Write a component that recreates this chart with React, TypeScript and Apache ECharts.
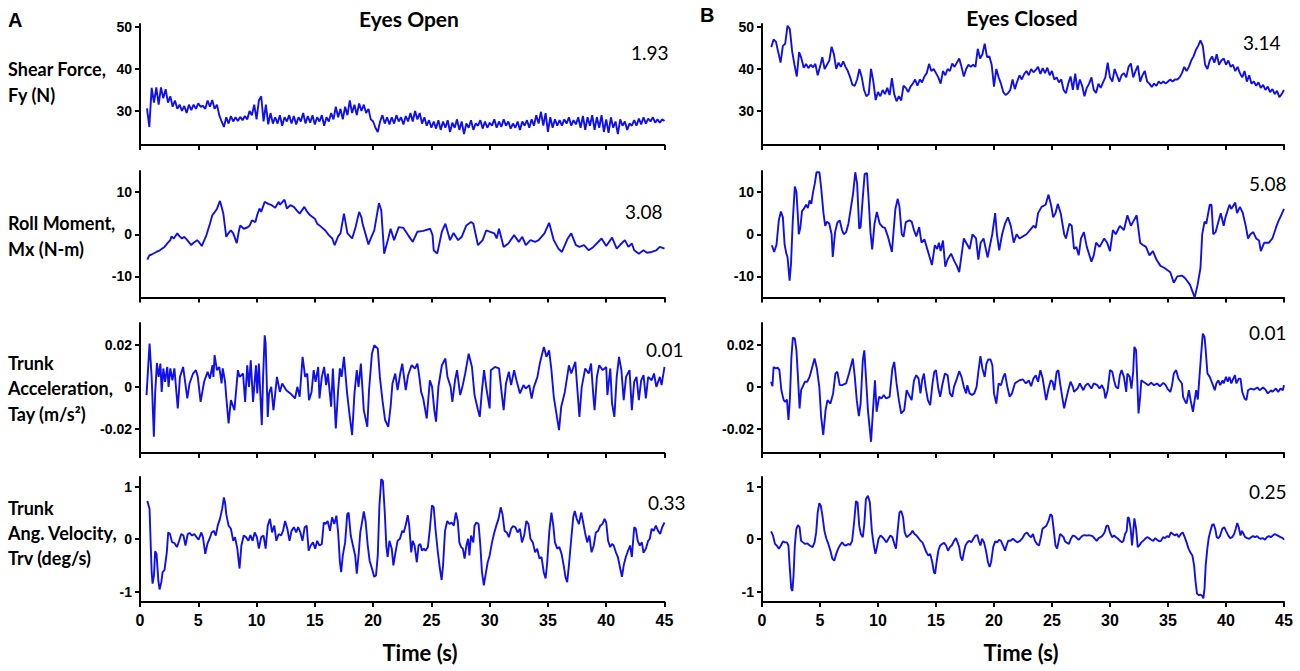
import React, { useEffect, useRef } from "react";
import * as echarts from "echarts";

// ---------- data ----------
// Shear force Fy (N), eyes open: sampled every 0.2 s from 0.6 s
const shearOpenStart = 0.6;
const shearOpenStep = 0.2;
const shearOpen: number[] = [
  30.6, 26.2, 35.5, 32.0, 35.6,
  31.5, 35.6, 33.0, 35.2, 32.0,
  33.5, 31.0, 32.5, 30.5, 31.5,
  30.0, 31.2, 29.5, 31.5, 30.2,
  31.5, 30.5, 31.8, 31.0, 31.2,
  30.5, 32.5, 31.0, 32.6, 30.5,
  31.5, 29.0, 27.5, 26.2, 28.5,
  27.0, 28.8, 27.5, 28.5, 27.6,
  28.6, 27.8, 28.8, 28.0, 30.0,
  29.0, 31.5, 28.0, 32.5, 33.5,
  27.5, 31.5, 26.8, 29.5, 27.0,
  28.5, 27.0, 29.0, 26.5, 28.5,
  27.5, 29.0, 27.0, 28.8, 26.8,
  28.5, 27.5, 29.5, 27.0, 28.8,
  27.2, 29.0, 26.8, 28.5, 27.5,
  29.0, 26.5, 28.5, 27.5, 29.5,
  28.0, 31.0, 28.5, 30.5, 28.0,
  31.0, 29.0, 32.5, 29.5, 31.5,
  29.0, 31.8, 30.0, 31.5, 29.5,
  30.5, 28.0, 27.5, 26.0, 25.0,
  27.5, 29.0, 27.0, 28.5, 26.8,
  28.5, 27.0, 29.0, 27.5, 28.5,
  26.8, 28.8, 27.5, 29.5, 27.5,
  30.0, 28.0, 29.5, 27.0, 28.5,
  26.5, 27.8, 26.0, 27.5, 25.8,
  27.8, 25.5, 27.5, 26.0, 27.8,
  25.0, 27.2, 26.0, 28.0, 25.5,
  27.5, 24.5, 27.0, 26.0, 27.8,
  25.5, 27.0, 26.5, 27.8, 25.8,
  27.5, 26.0, 27.2, 26.5, 28.0,
  26.0, 27.5, 26.2, 28.0, 26.5,
  27.5, 25.8, 27.0, 26.0, 27.5,
  25.5, 27.5, 26.5, 27.8, 26.0,
  28.0, 26.5, 29.0, 27.0, 29.8,
  26.5, 29.5, 25.0, 28.5, 26.0,
  28.0, 26.5, 27.8, 26.5, 28.0,
  27.0, 28.5, 26.5, 27.8, 26.8,
  28.5, 26.0, 28.8, 25.5, 28.5,
  26.5, 29.0, 25.5, 28.5, 26.0,
  29.0, 25.0, 28.0, 24.8, 28.5,
  26.0, 27.5, 24.5, 28.0, 26.5,
  27.5, 25.5, 27.0, 26.5, 27.8,
  26.5, 28.2, 26.8, 28.5, 27.0,
  28.2, 27.5, 28.5, 27.2, 28.0,
  27.2, 28.0, 27.6,
];

// Shear force Fy (N), eyes closed: sampled every 0.2 s from 0.8 s
const shearClosedStart = 0.8;
const shearClosedStep = 0.2;
const shearClosed: number[] = [
  45.2, 47.0, 46.5, 44.0, 41.5,
  45.5, 46.0, 50.3, 49.5, 44.2,
  41.0, 38.2, 44.0, 42.5, 40.3,
  41.2, 40.2, 41.0, 40.4, 41.2,
  38.5, 40.5, 42.8, 40.0, 41.0,
  42.0, 45.3, 43.5, 40.0, 41.5,
  40.5, 41.8, 40.5, 39.5, 38.0,
  36.2, 36.0, 37.5, 40.0, 38.0,
  35.0, 33.5, 34.0, 40.0, 37.0,
  32.6, 34.5, 33.5, 35.0, 34.0,
  35.5, 33.8, 37.8, 34.0, 32.3,
  33.5, 32.5, 36.0, 35.5, 34.5,
  35.8, 36.5, 37.5, 36.0, 37.5,
  36.8, 38.2, 39.0, 41.2, 39.5,
  40.0, 39.0, 38.0, 36.5, 39.5,
  38.5, 40.0, 39.5, 41.3, 40.5,
  41.5, 42.5, 40.5, 38.2, 40.0,
  41.0, 40.5, 41.0, 40.5, 44.8,
  42.5, 43.5, 46.0, 42.8, 43.0,
  41.0, 35.8, 40.0, 38.0, 36.5,
  34.5, 33.8, 34.2, 35.0, 37.5,
  35.2, 37.0, 38.5, 37.5, 38.8,
  39.5, 38.5, 40.0, 39.2, 39.8,
  40.5, 38.8, 40.2, 39.0, 40.3,
  38.5, 39.5, 37.5, 38.0, 36.8,
  37.5, 35.0, 34.2, 36.5, 38.2,
  35.0, 38.9, 35.0, 37.5, 36.0,
  33.5, 35.5, 36.5, 38.0, 35.0,
  34.3, 36.5, 35.5, 36.8, 38.0,
  41.5, 38.0, 37.0, 40.0, 38.5,
  37.0, 38.5, 39.0, 38.0, 40.5,
  41.3, 38.0, 39.5, 40.8, 37.0,
  38.5, 39.5, 37.0, 36.5, 35.7,
  36.5, 36.0, 37.0, 36.5, 37.0,
  36.5, 37.0, 37.5, 37.0, 37.5,
  37.5, 38.0, 39.0, 40.5, 39.5,
  40.5, 42.0, 43.0, 44.5, 45.5,
  46.8, 45.5, 41.0, 40.0, 42.0,
  43.0, 41.5, 43.5, 41.0, 42.0,
  42.5, 41.0, 42.0, 40.5, 41.0,
  39.5, 40.5, 39.0, 38.0, 39.5,
  37.0, 38.5, 36.5, 37.0, 36.0,
  36.8, 35.5, 36.2, 35.0, 35.8,
  34.5, 35.2, 34.0, 34.8, 33.3,
  34.0, 35.0,
];

// Roll moment Mx (N-m), eyes open: [time s, value]
const rollOpen: [number, number][] = [
  [0.63,-6.0],[0.8,-5.0],[1.0,-4.8],[1.2,-4.5],[1.4,-4.2],[1.7,-3.8],[2.1,-3.0],[2.4,-2.0],[2.6,-1.4],[2.7,-0.5],
  [2.9,-1.0],[3.0,-0.6],[3.2,0.2],[3.4,-0.5],[3.6,-1.0],[3.8,-0.6],[4.0,-1.2],[4.4,-2.6],[4.6,-2.0],[4.9,-1.4],
  [5.1,-2.0],[5.3,-2.8],[5.5,-1.5],[5.7,-0.2],[6.0,2.5],[6.2,4.5],[6.4,5.2],[6.6,6.0],[6.86,7.9],[7.0,6.5],
  [7.15,4.9],[7.4,-0.6],[7.6,0.3],[7.8,0.9],[8.0,0.2],[8.3,-2.1],[8.5,1.0],[8.6,2.1],[8.9,1.3],[9.2,1.6],
  [9.4,2.0],[9.6,3.3],[9.9,2.9],[10.05,4.5],[10.25,6.1],[10.4,5.3],[10.7,7.7],[11.0,7.2],[11.3,6.9],[11.6,6.3],
  [11.9,7.7],[12.0,7.0],[12.4,8.2],[12.6,6.1],[12.9,6.9],[13.2,6.5],[13.5,5.5],[13.7,4.9],[14.1,6.5],[14.3,5.5],
  [14.6,4.5],[15.0,3.7],[15.2,2.5],[15.4,2.1],[15.9,0.9],[16.2,-0.2],[16.5,-1.0],[16.7,-2.6],[17.0,-0.5],[17.2,0.2],
  [17.5,4.9],[17.8,0.2],[18.2,-1.0],[18.5,1.7],[18.8,5.3],[19.0,4.0],[19.1,2.5],[19.6,-2.4],[19.8,-1.0],[20.1,0.9],
  [20.5,7.4],[20.7,5.7],[20.95,-4.6],[21.3,-1.0],[21.5,1.3],[21.8,-1.4],[22.2,1.7],[22.6,1.5],[23.0,-0.2],[23.4,-1.8],
  [23.8,0.6],[24.3,0.8],[24.9,1.3],[25.1,-0.2],[25.2,-3.8],[25.5,-4.6],[25.9,0.6],[26.2,2.5],[26.6,-1.4],[26.9,0.3],
  [27.3,-1.4],[27.6,-0.6],[28.0,2.1],[28.4,2.9],[28.6,2.5],[29.0,-2.6],[29.4,-1.4],[29.7,0.9],[30.1,0.5],[30.4,0.2],
  [30.6,-1.0],[30.8,1.3],[31.2,-3.0],[31.6,-2.2],[32.1,-0.2],[32.5,-1.8],[32.8,-0.6],[33.1,-2.6],[33.5,-1.4],[33.9,-1.8],
  [34.2,-1.4],[34.7,0.2],[35.1,2.7],[35.5,-1.4],[35.9,-3.4],[36.2,-4.2],[36.7,-1.0],[37.0,0.2],[37.4,-2.6],[37.7,-3.0],
  [38.1,-2.6],[38.5,-3.8],[38.9,-3.0],[39.6,-1.0],[40.0,-2.8],[40.5,-0.8],[40.9,-3.4],[41.2,-2.5],[41.6,-1.4],[41.9,-3.0],
  [42.2,-2.2],[42.4,-3.8],[42.8,-4.6],[43.2,-3.8],[43.5,-4.4],[43.9,-4.2],[44.3,-3.8],[44.6,-3.0],[45.0,-3.4],
];

// Roll moment Mx (N-m), eyes closed
const rollClosed: [number, number][] = [
  [0.85,-2.6],[1.05,-4.2],[1.25,-2.5],[1.45,3.3],[1.63,5.4],[1.8,4.0],[1.95,-2.5],[2.1,-4.6],[2.2,-5.4],[2.38,-11.0],
  [2.5,-7.0],[2.65,3.0],[2.83,11.3],[2.97,10.0],[3.1,4.0],[3.17,0.0],[3.3,1.5],[3.45,5.5],[3.6,6.0],[3.8,7.0],
  [3.95,6.2],[4.1,8.0],[4.25,7.2],[4.4,10.0],[4.55,12.0],[4.7,14.7],[4.95,14.7],[5.1,11.0],[5.3,5.0],[5.45,2.0],
  [5.6,3.0],[5.8,2.5],[6.0,0.0],[6.1,-5.4],[6.3,0.5],[6.5,2.8],[6.7,3.3],[6.9,1.0],[7.05,0.0],[7.25,0.5],
  [7.45,2.5],[7.65,6.0],[7.85,9.6],[8.04,14.7],[8.2,12.0],[8.38,1.3],[8.5,1.7],[8.68,8.4],[8.85,14.3],[9.05,14.5],
  [9.2,8.0],[9.35,0.5],[9.5,-3.6],[9.7,2.5],[9.9,5.3],[10.15,2.5],[10.4,1.7],[10.6,1.5],[10.85,-0.5],[11.2,-4.2],
  [11.35,1.0],[11.5,6.0],[11.7,8.4],[11.85,6.5],[12.05,0.0],[12.2,-0.6],[12.4,2.9],[12.7,3.3],[12.9,3.0],[13.1,1.0],
  [13.3,-0.5],[13.55,1.7],[13.75,-2.0],[14.0,-1.2],[14.3,-4.0],[14.65,-7.3],[14.9,-2.6],[15.1,-3.5],[15.25,-2.0],[15.4,-4.0],
  [15.6,-1.5],[15.8,-7.7],[16.0,-6.0],[16.3,-4.6],[16.6,-6.5],[16.8,-7.5],[17.0,-9.0],[17.2,-5.0],[17.4,-1.0],[17.6,-2.0],
  [17.9,-3.5],[18.15,0.0],[18.45,-1.0],[18.65,-6.0],[18.85,-2.0],[19.1,-1.0],[19.45,-5.5],[19.7,-2.0],[19.85,0.0],[20.1,5.0],
  [20.25,0.0],[20.45,-3.8],[20.7,0.0],[20.95,2.5],[21.2,4.0],[21.45,2.0],[21.7,-2.0],[21.95,0.0],[22.2,-1.0],[22.5,-0.5],
  [22.8,0.0],[23.1,1.0],[23.4,2.0],[23.6,1.5],[23.8,5.0],[24.1,6.5],[24.45,7.0],[24.7,9.4],[24.95,6.5],[25.1,4.0],
  [25.3,5.0],[25.5,7.2],[25.75,5.0],[26.05,0.0],[26.2,-1.0],[26.5,2.5],[26.7,2.0],[26.9,-3.5],[27.1,-3.0],[27.3,-5.0],
  [27.5,-1.0],[27.75,0.5],[28.0,-3.0],[28.4,-6.5],[28.6,-5.0],[28.8,-2.0],[29.1,-3.0],[29.5,-1.0],[29.75,-2.0],[30.0,-4.0],
  [30.25,1.0],[30.5,0.0],[30.85,2.0],[31.2,1.0],[31.5,4.5],[31.8,2.0],[32.0,3.0],[32.3,4.5],[32.6,-2.0],[32.8,-2.5],
  [33.1,-3.0],[33.4,-5.0],[33.7,-4.0],[34.0,-6.0],[34.35,-7.5],[34.7,-8.0],[35.2,-9.0],[35.5,-11.5],[35.8,-10.0],[36.2,-9.8],
  [36.5,-10.5],[36.9,-12.0],[37.1,-13.5],[37.3,-15.0],[37.55,-12.0],[37.8,-8.0],[37.95,0.0],[38.15,3.0],[38.3,2.5],[38.6,7.0],
  [38.75,7.0],[38.9,0.0],[39.1,0.5],[39.35,3.0],[39.55,5.0],[39.8,2.0],[39.95,4.0],[40.3,7.0],[40.45,6.0],[40.8,7.5],
  [40.95,5.0],[41.2,6.5],[41.45,5.0],[41.7,2.0],[41.9,-1.0],[42.1,0.0],[42.35,0.5],[42.6,-1.0],[42.85,-1.5],[43.0,-4.0],
  [43.3,-2.0],[43.7,-2.0],[44.0,-1.0],[44.3,1.5],[44.5,3.0],[44.75,4.5],[45.0,6.0],
];

// Trunk acceleration Tay (m/s^2), eyes open
const accOpen: [number, number][] = [
  [0.56,-0.0039],[0.82,0.0205],[1.0,0.0047],[1.19,-0.0236],[1.3,-0.0031],[1.45,0.0113],[1.6,0.0047],[1.75,0.011],[1.86,-0.0024],[2.0,0.0087],
  [2.15,0.0024],[2.34,0.0094],[2.45,0.0],[2.6,0.0087],[2.78,0.0031],[2.95,0.0087],[3.24,-0.0102],[3.43,0.0047],[3.7,0.0094],[4.06,-0.0055],
  [4.25,0.0016],[4.55,0.0063],[4.8,0.0079],[4.96,0.0047],[5.2,-0.0071],[5.5,0.0024],[5.8,0.0071],[6.0,0.0039],[6.22,0.0102],[6.3,0.0047],
  [6.4,0.015],[6.6,0.0079],[6.8,0.0094],[7.0,0.0016],[7.1,0.0087],[7.3,0.0024],[7.4,-0.0047],[7.6,-0.0173],[7.8,-0.0063],[8.0,-0.0094],
  [8.1,-0.011],[8.4,0.0079],[8.55,0.0047],[8.84,0.0063],[9.02,-0.0071],[9.2,0.0102],[9.35,0.0],[9.5,0.0126],[9.7,-0.0071],[9.95,0.0102],
  [10.06,-0.0031],[10.2,0.011],[10.45,-0.0181],[10.56,0.0047],[10.7,0.0244],[10.78,0.0205],[10.96,-0.0142],[11.07,-0.0031],[11.26,0.0],[11.45,-0.011],
  [11.75,0.0047],[12.0,-0.0024],[12.2,0.0016],[12.55,-0.0016],[12.9,-0.0031],[13.3,-0.0055],[13.5,0.0],[13.7,-0.0047],[13.95,0.0142],[14.17,0.0047],
  [14.35,0.0063],[14.5,-0.0063],[14.72,-0.0024],[14.9,0.0079],[15.06,0.0024],[15.29,0.0094],[15.4,-0.0055],[15.6,0.0047],[15.8,0.0094],[15.97,0.0008],
  [16.12,0.0063],[16.4,-0.0094],[16.55,0.0087],[16.8,-0.0197],[17.0,-0.0016],[17.15,0.0087],[17.3,0.0047],[17.5,0.0142],[17.77,-0.0031],[18.0,-0.0142],
  [18.2,-0.0228],[18.4,-0.0031],[18.6,0.0079],[18.75,0.0],[18.95,0.011],[19.2,-0.011],[19.5,-0.0189],[19.65,-0.0016],[19.9,0.0157],[20.1,0.0197],
  [20.4,0.0181],[20.58,0.0047],[20.8,-0.0063],[21.03,-0.0157],[21.3,-0.0189],[21.5,-0.0094],[21.66,0.0016],[21.9,0.0063],[22.1,-0.0016],[22.33,0.0063],
  [22.5,0.011],[22.8,-0.0016],[23.0,0.0055],[23.3,0.0102],[23.6,0.0087],[23.8,0.011],[23.97,0.0047],[24.12,-0.0024],[24.3,-0.0055],[24.6,-0.015],
  [24.87,0.0031],[25.06,0.0],[25.25,-0.011],[25.4,-0.0165],[25.6,0.0],[25.9,0.0102],[26.2,0.0134],[26.38,0.0047],[26.65,0.0],[26.8,-0.0071],
  [27.03,0.0031],[27.2,0.0079],[27.47,-0.0039],[27.66,0.0],[27.9,0.0063],[28.2,0.0157],[28.48,0.0094],[28.7,-0.0039],[29.0,-0.011],[29.15,-0.0142],
  [29.34,-0.0016],[29.52,0.0079],[29.7,0.0],[30.0,-0.0102],[30.1,0.0079],[30.45,0.0094],[30.8,0.0087],[31.0,-0.0016],[31.2,-0.011],[31.4,0.0016],
  [31.65,0.0071],[31.84,0.0008],[32.1,0.0079],[32.3,0.0031],[32.6,-0.0031],[32.9,0.0008],[33.1,-0.0008],[33.4,0.0008],[33.6,-0.0055],[33.8,0.0],
  [34.1,0.0047],[34.3,0.011],[34.65,0.0189],[34.87,0.0142],[35.1,0.0173],[35.3,0.0079],[35.5,-0.0047],[35.95,-0.0205],[36.14,-0.0094],[36.45,-0.0024],
  [36.8,0.0102],[37.0,0.0063],[37.35,0.0118],[37.55,-0.0031],[37.7,-0.0142],[37.9,0.0],[38.2,0.0087],[38.5,0.0063],[38.7,0.011],[38.9,-0.0047],
  [39.0,-0.011],[39.2,0.0047],[39.4,0.0102],[39.7,0.0079],[40.0,0.0094],[40.1,-0.0039],[40.35,0.0087],[40.5,-0.0079],[40.7,-0.0142],[40.9,0.0047],
  [41.1,0.0142],[41.3,0.0079],[41.5,-0.0063],[41.7,0.0047],[42.0,0.0079],[42.2,-0.011],[42.4,0.0024],[42.6,0.0047],[42.8,-0.0063],[43.0,0.0031],
  [43.2,0.0055],[43.4,-0.0055],[43.6,0.0047],[43.9,0.0031],[44.1,0.0063],[44.3,0.0],[44.6,0.0047],[44.75,0.0008],[45.0,0.0094],
];

// Trunk acceleration Tay (m/s^2), eyes closed
const accClosed: [number, number][] = [
  [0.78,0.0024],[0.9,0.0003],[1.0,0.0094],[1.2,0.0087],[1.35,0.0091],[1.5,0.0079],[1.67,-0.0016],[1.87,-0.0063],[2.0,-0.0071],[2.15,-0.006],
  [2.28,-0.0157],[2.4,-0.0063],[2.53,0.0134],[2.66,0.0233],[2.83,0.0228],[2.97,0.0173],[3.1,0.0047],[3.24,-0.0102],[3.37,-0.0016],[3.5,0.0],
  [3.7,0.0024],[3.9,0.0024],[4.1,0.0047],[4.3,0.0087],[4.53,0.0134],[4.73,0.0087],[4.94,0.0],[5.1,-0.0142],[5.28,-0.0228],[5.48,-0.011],
  [5.65,-0.0063],[5.9,-0.0079],[6.13,-0.0031],[6.33,0.0063],[6.5,0.0071],[6.7,0.0008],[6.9,0.0008],[7.25,0.0016],[7.5,0.0063],[7.83,0.0134],
  [8.0,0.0047],[8.17,-0.0063],[8.35,-0.0139],[8.5,-0.0079],[8.69,0.0126],[8.82,0.0173],[8.96,0.0047],[9.13,-0.011],[9.4,-0.026],[9.57,-0.011],
  [9.74,0.0031],[9.88,-0.0118],[10.1,-0.0047],[10.3,-0.0055],[10.5,-0.0039],[10.7,-0.0055],[11.0,-0.0047],[11.24,0.0087],[11.4,0.0118],[11.6,0.0016],
  [11.8,-0.0063],[12.0,-0.0126],[12.26,-0.011],[12.47,-0.0016],[12.6,-0.0031],[12.9,-0.0063],[13.1,0.0031],[13.3,0.0055],[13.5,0.0039],[13.66,-0.0031],
  [13.8,0.0031],[13.96,0.0063],[14.1,0.0],[14.3,-0.0063],[14.5,-0.0087],[14.7,0.0016],[14.85,0.0071],[15.0,0.0079],[15.2,-0.0008],[15.36,-0.0047],
  [15.57,0.0016],[15.77,0.0063],[16.0,0.0055],[16.2,-0.0031],[16.4,-0.0047],[16.55,0.0],[16.8,0.0039],[17.0,0.0074],[17.2,0.0047],[17.4,0.0],
  [17.6,-0.0031],[17.7,0.0008],[17.9,-0.0031],[18.1,-0.0039],[18.3,-0.0031],[18.5,0.0],[18.67,0.0079],[18.83,0.0145],[19.0,0.0087],[19.2,0.0047],
  [19.35,0.011],[19.5,0.0129],[19.7,0.0129],[19.86,0.0102],[20.0,-0.0031],[20.2,-0.0079],[20.4,0.0016],[20.6,0.0008],[20.8,0.0047],[20.95,0.0063],
  [21.15,0.0],[21.35,-0.0047],[21.55,-0.0031],[21.8,0.0016],[22.0,0.0024],[22.2,0.0031],[22.5,0.0035],[22.75,0.0016],[23.0,0.0031],[23.2,0.0003],
  [23.4,0.0039],[23.6,0.0055],[23.8,0.0024],[24.0,0.0079],[24.2,0.0039],[24.4,-0.0031],[24.5,-0.0063],[24.7,-0.0008],[24.9,0.0031],[25.05,0.0024],
  [25.2,-0.0016],[25.4,0.0071],[25.55,0.0079],[25.7,0.0016],[25.9,-0.0055],[26.05,-0.0102],[26.2,-0.0063],[26.4,-0.0016],[26.6,0.0024],[26.8,0.0],
  [26.9,-0.0024],[27.2,-0.0008],[27.4,0.0016],[27.7,-0.0016],[27.9,0.0008],[28.1,0.0016],[28.4,-0.0008],[28.6,0.0016],[28.9,0.0008],[29.1,-0.0008],
  [29.3,0.0008],[29.5,-0.0016],[29.6,-0.0055],[29.8,-0.0016],[30.0,0.0079],[30.2,0.0071],[30.35,0.0031],[30.5,0.0],[30.7,-0.0008],[30.85,0.0055],
  [31.0,0.0079],[31.2,0.0047],[31.4,-0.0024],[31.5,0.0063],[31.7,0.0047],[31.85,-0.0008],[32.0,0.0071],[32.1,0.0189],[32.25,0.0173],[32.35,0.0031],
  [32.46,-0.0126],[32.6,-0.0047],[32.7,0.0031],[32.87,0.0024],[33.1,0.0016],[33.3,0.0008],[33.55,0.0019],[33.8,0.0008],[34.06,0.0016],[34.3,0.0003],
  [34.6,0.0019],[34.8,0.0008],[34.95,-0.0008],[35.2,-0.0024],[35.35,0.0008],[35.5,0.0063],[35.7,0.0079],[35.9,0.0039],[36.0,0.0031],[36.2,0.0016],
  [36.3,-0.0047],[36.5,-0.0071],[36.6,-0.0079],[36.8,-0.0016],[36.95,-0.0063],[37.15,-0.0118],[37.3,-0.0063],[37.43,-0.0016],[37.57,-0.006],[37.7,0.0039],
  [37.84,0.0142],[38.0,0.0252],[38.15,0.0236],[38.25,0.0173],[38.4,0.0063],[38.6,0.0047],[38.76,0.0024],[38.93,0.0],[39.03,-0.0016],[39.17,0.0016],
  [39.34,0.0031],[39.5,0.0008],[39.7,0.0031],[39.8,0.0016],[40.0,0.0047],[40.15,0.0024],[40.3,0.0047],[40.46,0.0016],[40.63,0.0039],[40.77,0.0055],
  [40.9,0.0016],[41.1,0.0039],[41.25,0.0039],[41.4,-0.0024],[41.6,-0.0055],[41.76,-0.0063],[41.9,-0.0016],[42.15,-0.0008],[42.4,-0.0013],[42.7,-0.0003],
  [42.9,-0.0016],[43.2,-0.0003],[43.4,-0.0013],[43.6,-0.0031],[43.9,-0.0016],[44.0,-0.0024],[44.3,-0.0008],[44.5,-0.0024],[44.7,-0.0008],[44.9,-0.0016],
  [45.0,0.0008],
];

// Trunk angular velocity Trv (deg/s), eyes open
const velOpen: [number, number][] = [
  [0.63,0.73],[0.82,0.58],[0.93,-0.18],[1.0,-0.63],[1.08,-0.85],[1.2,-0.69],[1.3,-0.23],[1.42,-0.28],[1.57,-0.78],[1.68,-0.96],
  [1.83,-0.82],[1.94,-0.63],[2.1,-0.59],[2.3,-0.25],[2.42,0.13],[2.57,0.1],[2.76,-0.06],[2.95,-0.07],[3.17,-0.15],[3.36,-0.03],
  [3.54,0.1],[3.73,0.07],[3.9,-0.12],[4.1,0.1],[4.25,0.12],[4.47,0.07],[4.66,0.1],[4.85,0.04],[5.03,-0.01],[5.26,0.13],
  [5.4,0.04],[5.6,-0.28],[5.78,-0.09],[5.97,0.01],[6.15,0.13],[6.34,0.16],[6.5,0.07],[6.67,0.26],[6.86,0.39],[7.05,0.58],
  [7.2,0.8],[7.3,0.7],[7.4,0.48],[7.6,0.26],[7.8,0.2],[8.0,-0.03],[8.15,0.04],[8.35,-0.18],[8.54,-0.56],[8.7,-0.12],
  [8.9,0.07],[9.1,0.04],[9.3,-0.03],[9.47,0.08],[9.66,-0.03],[9.84,0.13],[10.03,0.04],[10.2,-0.18],[10.4,0.04],[10.6,0.07],
  [10.78,-0.18],[10.96,0.26],[11.15,0.39],[11.33,0.13],[11.52,0.26],[11.7,-0.03],[11.9,0.1],[12.1,0.07],[12.27,0.16],[12.45,0.35],
  [12.64,0.2],[12.83,-0.03],[13.0,0.16],[13.2,0.23],[13.4,0.13],[13.57,0.23],[13.76,0.13],[13.94,-0.03],[14.13,0.23],[14.3,0.26],
  [14.47,-0.22],[14.65,-0.12],[14.84,-0.06],[15.03,-0.18],[15.2,-0.03],[15.4,-0.12],[15.6,-0.09],[15.77,0.32],[15.92,0.29],[16.1,0.35],
  [16.3,0.16],[16.48,0.42],[16.67,0.29],[16.85,0.45],[17.0,0.13],[17.15,-0.44],[17.26,-0.63],[17.4,-0.31],[17.6,-0.06],[17.78,0.48],
  [17.9,0.51],[18.08,0.07],[18.27,-0.12],[18.46,-0.31],[18.6,-0.66],[18.75,-0.31],[18.9,0.13],[19.1,0.39],[19.2,0.53],[19.35,0.35],
  [19.54,-0.12],[19.7,-0.41],[19.9,-0.56],[20.1,-0.72],[20.25,-0.69],[20.4,-0.31],[20.54,0.64],[20.7,1.15],[20.84,1.11],[21.0,0.51],
  [21.14,-0.15],[21.25,-0.34],[21.4,-0.03],[21.6,-0.18],[21.74,-0.5],[21.92,-0.25],[22.1,-0.03],[22.3,0.01],[22.5,0.16],[22.63,0.13],
  [22.82,0.29],[22.97,0.46],[23.1,0.26],[23.27,-0.25],[23.4,-0.03],[23.56,-0.12],[23.75,-0.44],[23.9,-0.12],[24.05,-0.09],[24.2,-0.22],
  [24.35,-0.18],[24.5,-0.22],[24.7,-0.15],[24.87,0.2],[25.05,0.65],[25.2,0.61],[25.35,0.2],[25.54,-0.22],[25.73,-0.56],[25.88,-0.78],
  [26.0,-0.5],[26.17,0.16],[26.36,0.35],[26.55,0.29],[26.73,0.32],[26.92,0.26],[27.1,0.51],[27.26,0.35],[27.4,-0.06],[27.55,-0.15],
  [27.7,-0.18],[27.85,-0.37],[28.0,-0.12],[28.15,0.01],[28.26,-0.31],[28.4,0.07],[28.6,-0.06],[28.7,0.26],[28.86,0.32],[29.05,0.29],
  [29.2,-0.12],[29.34,-0.63],[29.5,-0.88],[29.64,-0.69],[29.83,-0.44],[30.0,-0.31],[30.2,-0.06],[30.4,0.13],[30.57,0.26],[30.76,0.39],
  [30.95,0.61],[31.1,0.48],[31.28,0.16],[31.47,0.13],[31.65,0.04],[31.84,0.2],[32.0,0.25],[32.2,0.23],[32.4,0.13],[32.6,0.2],
  [32.77,-0.06],[32.96,0.07],[33.15,0.35],[33.33,0.29],[33.5,0.01],[33.7,-0.06],[33.9,-0.25],[34.08,-0.18],[34.27,-0.37],[34.45,-0.34],
  [34.64,-0.63],[34.8,-0.75],[34.94,-0.44],[35.12,0.16],[35.3,0.51],[35.46,0.26],[35.6,-0.06],[35.8,-0.18],[35.98,-0.15],[36.17,-0.28],
  [36.35,-0.5],[36.5,-0.72],[36.65,-0.82],[36.8,-0.5],[37.0,0.01],[37.17,0.42],[37.3,0.54],[37.47,0.39],[37.66,0.29],[37.85,0.51],
  [38.0,0.35],[38.18,0.13],[38.37,-0.06],[38.55,0.07],[38.74,-0.25],[38.93,-0.12],[39.11,0.13],[39.3,0.16],[39.49,0.26],[39.67,0.29],
  [39.86,0.39],[40.0,0.32],[40.16,-0.03],[40.34,-0.15],[40.5,-0.09],[40.64,-0.12],[40.83,-0.25],[41.0,-0.34],[41.2,-0.56],[41.35,-0.72],
  [41.5,-0.5],[41.68,-0.34],[41.87,-0.22],[42.05,-0.12],[42.2,-0.34],[42.4,0.23],[42.54,0.2],[42.7,-0.03],[42.88,-0.12],[43.06,-0.06],
  [43.2,-0.26],[43.4,-0.18],[43.6,-0.03],[43.74,0.01],[43.9,0.2],[44.07,0.16],[44.26,0.26],[44.45,0.16],[44.63,0.1],[44.8,0.23],
  [45.0,0.32],
];

// Trunk angular velocity Trv (deg/s), eyes closed
const velClosed: [number, number][] = [
  [0.78,0.15],[0.95,0.07],[1.12,-0.09],[1.3,-0.13],[1.46,-0.18],[1.63,-0.12],[1.8,-0.04],[1.98,-0.06],[2.15,-0.06],[2.28,-0.12],
  [2.38,-0.5],[2.52,-0.94],[2.62,-0.99],[2.72,-0.69],[2.83,-0.12],[2.96,0.2],[3.1,0.27],[3.24,0.23],[3.37,-0.03],[3.54,-0.06],
  [3.71,-0.09],[3.92,-0.08],[4.12,-0.12],[4.36,-0.15],[4.53,-0.06],[4.67,0.13],[4.8,0.51],[4.94,0.69],[5.07,0.64],[5.21,0.45],
  [5.38,0.16],[5.55,0.01],[5.72,-0.09],[5.9,-0.22],[6.06,-0.37],[6.23,-0.41],[6.4,-0.28],[6.57,-0.18],[6.74,-0.11],[6.91,-0.06],
  [7.08,-0.11],[7.25,-0.12],[7.42,-0.09],[7.6,-0.11],[7.77,-0.03],[7.94,0.32],[8.1,0.73],[8.24,0.7],[8.38,0.26],[8.52,0.1],
  [8.69,0.04],[8.82,0.29],[8.96,0.77],[9.13,0.83],[9.3,0.7],[9.47,0.16],[9.64,-0.12],[9.78,-0.28],[9.91,-0.15],[10.05,0.01],
  [10.22,0.07],[10.39,0.04],[10.56,-0.01],[10.73,-0.06],[10.9,0.01],[11.07,0.07],[11.24,0.04],[11.41,-0.09],[11.55,-0.18],[11.68,0.13],
  [11.85,0.51],[12.0,0.54],[12.16,0.42],[12.3,0.13],[12.47,0.04],[12.64,0.07],[12.8,0.1],[12.98,0.16],[13.15,0.1],[13.32,0.07],
  [13.5,0.02],[13.66,-0.03],[13.83,-0.06],[14.0,-0.15],[14.17,-0.25],[14.34,-0.31],[14.5,-0.28],[14.68,-0.44],[14.82,-0.63],[14.92,-0.66],
  [15.05,-0.44],[15.2,-0.22],[15.36,-0.12],[15.53,-0.09],[15.7,-0.07],[15.87,-0.12],[16.04,-0.22],[16.2,-0.15],[16.38,-0.11],[16.55,-0.03],
  [16.72,0.02],[16.86,-0.06],[17.0,-0.15],[17.13,-0.34],[17.27,-0.41],[17.4,-0.25],[17.54,-0.12],[17.7,-0.06],[17.88,-0.03],[18.05,-0.06],
  [18.22,0.01],[18.4,0.07],[18.56,0.08],[18.7,-0.04],[18.83,-0.12],[18.97,0.01],[19.14,-0.06],[19.31,-0.22],[19.48,-0.44],[19.62,-0.53],
  [19.75,-0.44],[19.93,-0.15],[20.1,-0.04],[20.27,-0.06],[20.44,-0.01],[20.6,-0.03],[20.78,-0.12],[20.95,-0.22],[21.08,-0.12],[21.22,-0.03],
  [21.42,-0.03],[21.63,0.01],[21.83,-0.03],[22.0,-0.06],[22.24,-0.03],[22.45,0.02],[22.65,0.1],[22.85,0.13],[23.02,0.07],[23.2,0.04],
  [23.36,0.1],[23.53,-0.03],[23.7,-0.09],[23.88,-0.12],[24.05,0.04],[24.18,0.2],[24.35,0.23],[24.52,0.26],[24.7,0.35],[24.86,0.48],
  [25.0,0.45],[25.14,0.2],[25.3,-0.12],[25.44,-0.18],[25.58,-0.03],[25.7,0.1],[25.85,0.07],[26.0,0.04],[26.12,-0.04],[26.3,-0.07],
  [26.46,-0.09],[26.63,0.01],[26.8,0.07],[26.97,0.06],[27.15,0.02],[27.3,-0.01],[27.5,0.04],[27.66,0.07],[27.83,0.08],[28.0,0.07],
  [28.17,0.08],[28.34,0.07],[28.5,0.06],[28.68,0.01],[28.85,-0.03],[29.02,0.02],[29.19,0.04],[29.36,0.07],[29.53,0.13],[29.7,0.26],
  [29.84,0.26],[30.0,0.13],[30.18,0.04],[30.35,0.07],[30.52,0.04],[30.69,0.01],[30.86,-0.03],[31.03,-0.06],[31.16,-0.03],[31.3,0.1],
  [31.44,0.16],[31.54,0.42],[31.64,0.4],[31.78,0.2],[31.9,-0.12],[32.0,0.13],[32.1,0.4],[32.25,0.2],[32.39,-0.15],[32.53,-0.12],
  [32.7,-0.06],[32.87,-0.03],[33.04,0.01],[33.2,0.04],[33.38,0.02],[33.55,-0.01],[33.72,-0.03],[33.9,0.02],[34.06,-0.01],[34.23,-0.04],
  [34.4,-0.03],[34.57,0.04],[34.74,0.02],[34.91,0.06],[35.08,0.04],[35.25,0.13],[35.42,0.1],[35.6,0.07],[35.76,0.1],[35.93,0.04],
  [36.1,0.1],[36.27,0.13],[36.44,0.04],[36.6,-0.06],[36.77,-0.18],[36.95,-0.26],[37.1,-0.31],[37.25,-0.5],[37.38,-0.82],[37.5,-1.04],
  [37.66,-1.07],[37.8,-1.06],[37.94,-1.08],[38.05,-1.13],[38.15,-0.94],[38.25,-0.5],[38.39,-0.18],[38.52,0.04],[38.66,0.16],[38.8,0.27],
  [38.93,0.29],[39.07,0.2],[39.2,0.04],[39.34,0.02],[39.5,0.07],[39.68,0.2],[39.85,0.23],[40.0,0.16],[40.2,0.07],[40.36,0.02],
  [40.53,0.04],[40.7,0.1],[40.84,0.2],[40.97,0.31],[41.1,0.23],[41.25,0.07],[41.38,0.16],[41.52,0.1],[41.65,0.04],[41.83,0.02],
  [42.0,0.01],[42.17,0.04],[42.33,0.06],[42.5,0.04],[42.68,0.06],[42.85,0.02],[43.0,0.01],[43.2,0.02],[43.36,-0.01],[43.53,0.04],
  [43.7,0.06],[43.87,0.04],[44.04,0.07],[44.2,0.1],[44.38,0.08],[44.55,0.06],[44.7,0.04],[44.9,0.02],[45.0,-0.01],
];

// axis ticks and per-panel statistics
const rowTicks: number[][] = [[30, 40, 50], [-10, 0, 10], [-0.02, 0, 0.02], [-1, 0, 1]];
const rowRanges: number[][] = [[21.9, 50.7], [-15, 15], [-0.0313, 0.0302], [-1.2, 1.19]];
const statsOpen = ["1.93", "3.08", "0.01", "0.33"];
const statsClosed = ["3.14", "5.08", "0.01", "0.25"];
const columnTitles = ["Eyes Open", "Eyes Closed"];
const panelLetters = ["A", "B"];
const rowLabels: string[][] = [
  ["Shear Force,", "Fy (N)"],
  ["Roll Moment,", "Mx (N-m)"],
  ["Trunk", "Acceleration,", "Tay (m/s\u00B2)"],
  ["Trunk", "Ang. Velocity,", "Trv (deg/s)"],
];
const xTitle = "Time (s)";

// ---------- layout (pixels) ----------
const COL_LEFT = [140, 762];
const COL_WIDTH = [524.5, 522];
const ROW_TOP = [24, 171, 323, 477];
const ROW_HEIGHT = [121, 126.5, 130, 125];
const LABEL_Y: number[][] = [[69, 95], [223, 249], [363, 388, 414], [508, 533, 558]];
const STAT_POS_OPEN: number[][] = [[631, 52], [625, 211], [646, 349], [648, 502]];
const STAT_POS_CLOSED: number[][] = [[1243, 42], [1249, 183], [1249, 332], [1249, 491]];

const LINE_COLOR = "#1010ee";
const TICK_FONT = "'Liberation Sans Narrow', 'Arial Narrow', 'Liberation Sans', Arial, sans-serif";
const LETTER_FONT = "'Liberation Sans', Arial, sans-serif";
const TEXT_FONT = "Lato, 'Open Sans', sans-serif";

function uniform(start: number, step: number, vals: number[]): [number, number][] {
  return vals.map((v, i) => [Math.round((start + i * step) * 100) / 100, v]);
}

function fmt(v: number): string {
  if (v === 0) return "0";
  if (Math.abs(v) < 0.1) return v.toFixed(2);
  return String(v);
}

export default function App() {
  const ref = useRef<HTMLDivElement>(null);

  useEffect(() => {
    if (!ref.current) return;
    const chart = echarts.init(ref.current, undefined, { renderer: "svg" });

    const panelData: [number, number][][][] = [
      [uniform(shearOpenStart, shearOpenStep, shearOpen), uniform(shearClosedStart, shearClosedStep, shearClosed)],
      [rollOpen, rollClosed],
      [accOpen, accClosed],
      [velOpen, velClosed],
    ];

    const grid: any[] = [];
    const xAxis: any[] = [];
    const yAxis: any[] = [];
    const series: any[] = [];

    for (let r = 0; r < 4; r++) {
      for (let c = 0; c < 2; c++) {
        const idx = grid.length;
        grid.push({ left: COL_LEFT[c], top: ROW_TOP[r], width: COL_WIDTH[c], height: ROW_HEIGHT[r], containLabel: false });
        xAxis.push({
          type: "value",
          gridIndex: idx,
          min: 0,
          max: 45,
          interval: 5,
          position: "bottom",
          axisLine: { show: true, onZero: false, lineStyle: { color: "#000", width: 2 } },
          axisTick: { show: true, inside: false, length: 5, lineStyle: { color: "#000", width: 2 } },
          axisLabel: {
            show: r === 3,
            margin: 10,
            color: "#000",
            fontFamily: TICK_FONT,
            fontWeight: "bold",
            fontSize: 16,
          },
          splitLine: { show: false },
        });
        yAxis.push({
          type: "value",
          gridIndex: idx,
          min: rowRanges[r][0],
          max: rowRanges[r][1],
          position: "left",
          axisLine: { show: true, onZero: false, lineStyle: { color: "#000", width: 2 } },
          axisTick: { show: true, inside: false, length: 5, customValues: rowTicks[r], lineStyle: { color: "#000", width: 2 } },
          axisLabel: {
            show: true,
            customValues: rowTicks[r],
            formatter: (v: number) => fmt(v),
            margin: 8,
            color: "#000",
            fontFamily: TICK_FONT,
            fontWeight: "bold",
            fontSize: 14,
          },
          splitLine: { show: false },
        });
        series.push({
          type: "line",
          xAxisIndex: idx,
          yAxisIndex: idx,
          data: panelData[r][c],
          showSymbol: false,
          symbol: "none",
          silent: true,
          clip: true,
          lineStyle: { color: LINE_COLOR, width: 1.9 },
        });
      }
    }

    const texts: any[] = [];
    const addText = (text: string, x: number, y: number, font: string, align = "left") => {
      texts.push({
        type: "text",
        x,
        y,
        silent: true,
        style: {
          text,
          font,
          fill: "#000",
          align,
          textAlign: align,
          verticalAlign: "middle",
          textVerticalAlign: "middle",
        },
      });
    };

    addText(panelLetters[0], 8, 20, `bold 20px ${LETTER_FONT}`);
    addText(panelLetters[1], 700, 15, `bold 20px ${LETTER_FONT}`);
    addText(columnTitles[0], 409, 18, `bold 21px ${TEXT_FONT}`, "center");
    addText(columnTitles[1], 1022, 17, `bold 21px ${TEXT_FONT}`, "center");
    rowLabels.forEach((lines, r) => {
      lines.forEach((line, i) => addText(line, 8, LABEL_Y[r][i], `bold 18px ${TEXT_FONT}`));
    });
    statsOpen.forEach((s, r) => addText(s, STAT_POS_OPEN[r][0], STAT_POS_OPEN[r][1], `19px ${TEXT_FONT}`));
    statsClosed.forEach((s, r) => addText(s, STAT_POS_CLOSED[r][0], STAT_POS_CLOSED[r][1], `19px ${TEXT_FONT}`));
    addText(xTitle, 420, 652, `bold 22px ${TEXT_FONT}`, "center");
    addText(xTitle, 1021, 652, `bold 22px ${TEXT_FONT}`, "center");

    chart.setOption({
      animation: false,
      backgroundColor: "#fff",
      grid,
      xAxis,
      yAxis,
      series,
      graphic: texts,
    });

    return () => chart.dispose();
  }, []);

  return (
    <div
      ref={ref}
      style={{ position: "absolute", left: 0, top: 0, width: 1300, height: 671, background: "#fff" }}
    />
  );
}
